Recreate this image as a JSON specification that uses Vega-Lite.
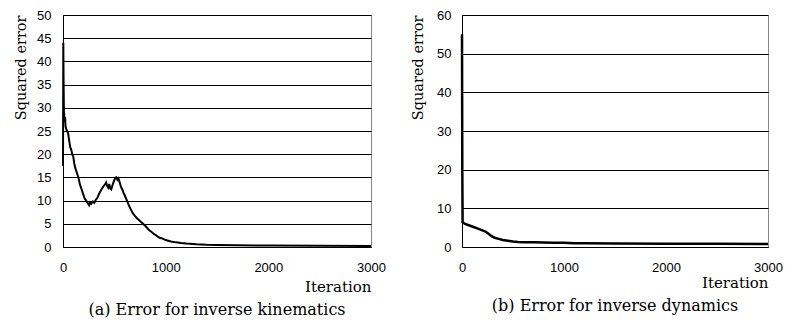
{
  "$schema": "https://vega.github.io/schema/vega-lite/v6.json",
  "padding": {"left": 13, "top": 8, "right": 0, "bottom": 0},
  "autosize": {"type": "pad"},
  "spacing": 24,
  "background": "white",
  "config": {
    "view": {"stroke": "#888888", "strokeWidth": 1},
    "axis": {"labelFont": "Liberation Sans", "labelFontSize": 13, "labelColor": "black", "format": "d", "titleFont": "DejaVu Serif", "titleFontSize": 14.5, "titleFontWeight": "normal", "titleColor": "black", "domainColor": "black", "gridColor": "black", "gridOpacity": 1, "gridWidth": 1, "ticks": false},
    "title": {"font": "DejaVu Serif", "fontSize": 16, "fontWeight": "normal", "color": "black"}
  },
  "datasets": {
    "kin": [
      {"iteration": 0, "error": 17.5}, {"iteration": 3, "error": 44}, {"iteration": 6, "error": 35}, {"iteration": 9, "error": 29}, {"iteration": 12, "error": 28.5}, {"iteration": 16, "error": 27}, {"iteration": 20, "error": 28}, {"iteration": 25, "error": 26}, {"iteration": 30, "error": 25.5}, {"iteration": 40, "error": 25}, {"iteration": 50, "error": 24.5}, {"iteration": 60, "error": 23}, {"iteration": 70, "error": 21.5}, {"iteration": 80, "error": 21}, {"iteration": 90, "error": 20}, {"iteration": 100, "error": 19.5}, {"iteration": 110, "error": 18}, {"iteration": 120, "error": 17}, {"iteration": 135, "error": 16}, {"iteration": 150, "error": 15}, {"iteration": 165, "error": 13.5}, {"iteration": 180, "error": 12.5}, {"iteration": 195, "error": 11.5}, {"iteration": 210, "error": 10.5}, {"iteration": 225, "error": 10}, {"iteration": 240, "error": 9.5}, {"iteration": 255, "error": 9}, {"iteration": 265, "error": 9.6}, {"iteration": 275, "error": 9.3}, {"iteration": 290, "error": 9.8}, {"iteration": 305, "error": 9.5}, {"iteration": 320, "error": 10.2}, {"iteration": 335, "error": 10.6}, {"iteration": 350, "error": 11.4}, {"iteration": 365, "error": 12}, {"iteration": 380, "error": 12.6}, {"iteration": 395, "error": 13.1}, {"iteration": 410, "error": 13.5}, {"iteration": 420, "error": 13.9}, {"iteration": 430, "error": 13.2}, {"iteration": 440, "error": 12.8}, {"iteration": 450, "error": 13.6}, {"iteration": 460, "error": 12.6}, {"iteration": 470, "error": 12.4}, {"iteration": 480, "error": 13.2}, {"iteration": 490, "error": 13.8}, {"iteration": 500, "error": 14.4}, {"iteration": 510, "error": 14.9}, {"iteration": 520, "error": 15}, {"iteration": 530, "error": 14.5}, {"iteration": 540, "error": 14.8}, {"iteration": 550, "error": 14.1}, {"iteration": 560, "error": 13.3}, {"iteration": 570, "error": 12.7}, {"iteration": 580, "error": 12.3}, {"iteration": 590, "error": 11.6}, {"iteration": 600, "error": 11.2}, {"iteration": 615, "error": 10.4}, {"iteration": 630, "error": 9.6}, {"iteration": 645, "error": 8.8}, {"iteration": 660, "error": 8.1}, {"iteration": 680, "error": 7.3}, {"iteration": 700, "error": 6.7}, {"iteration": 720, "error": 6.2}, {"iteration": 740, "error": 5.8}, {"iteration": 760, "error": 5.4}, {"iteration": 780, "error": 5.0}, {"iteration": 800, "error": 4.6}, {"iteration": 820, "error": 4.1}, {"iteration": 840, "error": 3.6}, {"iteration": 860, "error": 3.3}, {"iteration": 880, "error": 2.9}, {"iteration": 900, "error": 2.6}, {"iteration": 920, "error": 2.3}, {"iteration": 940, "error": 2.0}, {"iteration": 960, "error": 1.9}, {"iteration": 980, "error": 1.7}, {"iteration": 1000, "error": 1.5}, {"iteration": 1050, "error": 1.2}, {"iteration": 1100, "error": 1.0}, {"iteration": 1150, "error": 0.85}, {"iteration": 1200, "error": 0.75}, {"iteration": 1300, "error": 0.6}, {"iteration": 1400, "error": 0.5}, {"iteration": 1500, "error": 0.45}, {"iteration": 1700, "error": 0.38}, {"iteration": 2000, "error": 0.3}, {"iteration": 2500, "error": 0.25}, {"iteration": 3000, "error": 0.2}
    ],
    "dyn": [
      {"iteration": 0, "error": 55}, {"iteration": 3, "error": 20}, {"iteration": 6, "error": 6.4}, {"iteration": 30, "error": 6.0}, {"iteration": 60, "error": 5.7}, {"iteration": 100, "error": 5.3}, {"iteration": 150, "error": 4.8}, {"iteration": 200, "error": 4.3}, {"iteration": 230, "error": 4.0}, {"iteration": 260, "error": 3.4}, {"iteration": 290, "error": 2.8}, {"iteration": 320, "error": 2.4}, {"iteration": 360, "error": 2.1}, {"iteration": 400, "error": 1.8}, {"iteration": 450, "error": 1.6}, {"iteration": 500, "error": 1.4}, {"iteration": 550, "error": 1.3}, {"iteration": 600, "error": 1.25}, {"iteration": 700, "error": 1.2}, {"iteration": 800, "error": 1.15}, {"iteration": 900, "error": 1.1}, {"iteration": 1000, "error": 1.1}, {"iteration": 1100, "error": 1.0}, {"iteration": 1200, "error": 0.95}, {"iteration": 1500, "error": 0.9}, {"iteration": 2000, "error": 0.85}, {"iteration": 2500, "error": 0.82}, {"iteration": 3000, "error": 0.8}
    ]
  },
  "hconcat": [
    {
      "width": 308,
      "height": 232,
      "data": {"name": "kin"},
      "title": {"text": "(a) Error for inverse kinematics", "orient": "bottom", "anchor": "middle", "frame": "group", "offset": 8},
      "mark": {"type": "line", "color": "black", "strokeWidth": 2},
      "encoding": {
        "x": {"field": "iteration", "type": "quantitative", "scale": {"domain": [0, 3000], "nice": false}, "axis": {"values": [0, 1000, 2000, 3000], "grid": false, "labelFlush": false, "labelPadding": 14, "title": "Iteration", "titleFontSize": 15, "titleAnchor": "end", "titlePadding": 5}},
        "y": {"field": "error", "type": "quantitative", "scale": {"domain": [0, 50], "nice": false}, "axis": {"values": [0, 5, 10, 15, 20, 25, 30, 35, 40, 45, 50], "labelPadding": 12, "title": "Squared error", "titleAnchor": "end", "titlePadding": 8}}
      }
    },
    {
      "width": 306,
      "height": 232,
      "data": {"name": "dyn"},
      "title": {"text": "(b) Error for inverse dynamics", "orient": "bottom", "anchor": "middle", "frame": "group", "offset": 8},
      "mark": {"type": "line", "color": "black", "strokeWidth": 2.5},
      "encoding": {
        "x": {"field": "iteration", "type": "quantitative", "scale": {"domain": [0, 3000], "nice": false}, "axis": {"values": [0, 1000, 2000, 3000], "grid": false, "labelFlush": false, "labelPadding": 14, "title": "Iteration", "titleFontSize": 15, "titleAnchor": "end", "titlePadding": 1}},
        "y": {"field": "error", "type": "quantitative", "scale": {"domain": [0, 60], "nice": false}, "axis": {"values": [0, 10, 20, 30, 40, 50, 60], "labelPadding": 11, "title": "Squared error", "titleAnchor": "end", "titlePadding": 11}}
      }
    }
  ]
}
